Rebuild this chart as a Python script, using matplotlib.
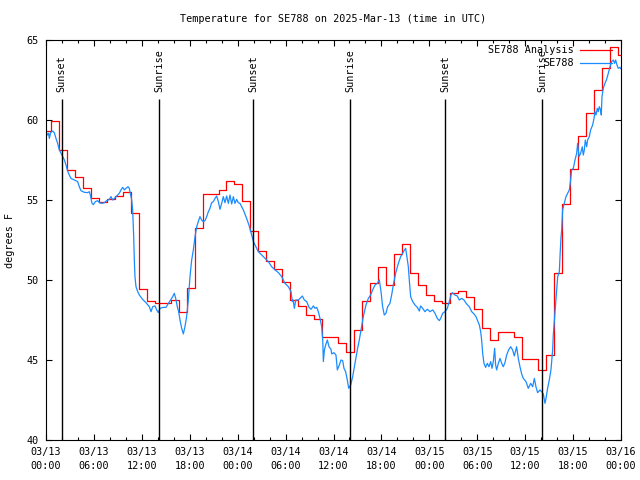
#
# temperature plot for SE788
#

import numpy as np
import pandas as pd
import matplotlib
matplotlib.use("Agg")
import matplotlib.pyplot as plt
import matplotlib.dates as mdates

start = pd.Timestamp("2025-03-13 00:00")
end = pd.Timestamp("2025-03-16 00:00")

# hourly analysis, each value holds from HH:36 of the previous hour
analysis_start = pd.Timestamp("2025-03-12 23:36")
analysis_temp = [
    59.31, 59.92, 58.10, 56.90, 56.42, 55.73, 55.10, 54.85, 55.04, 55.25,
    55.50, 54.17, 49.42, 48.67, 48.54, 48.54, 48.75, 47.98, 49.48, 53.23,
    55.38, 55.38, 55.62, 56.17, 55.98, 54.92, 53.04, 51.79, 51.17, 50.67,
    49.88, 48.73, 48.38, 47.79, 47.58, 46.42, 46.42, 46.08, 45.50, 46.88,
    48.69, 49.79, 50.79, 49.69, 51.60, 52.23, 50.42, 49.69, 49.06, 48.69,
    48.54, 49.17, 49.31, 48.92, 48.17, 46.98, 46.25, 46.73, 46.73, 46.42,
    45.04, 45.04, 44.38, 45.30, 50.42, 54.73, 56.92, 59.00, 60.46, 61.88,
    63.27, 64.58, 64.06,
]

# station observations: hours after 03/13 00:00 UTC and temperature
obs_hours = [
    0.00, 0.21, 0.33, 0.42, 0.58, 0.83, 1.04, 1.25, 1.46, 1.67, 1.88, 2.09,
    2.30, 2.50, 2.71, 2.92, 3.13, 3.55, 3.96, 4.17, 4.38, 4.80, 5.22, 5.43,
    5.55, 5.76, 5.93, 6.18, 6.47, 6.68, 7.01, 7.30, 7.60, 7.93, 8.14, 8.35,
    8.56, 8.85, 9.18, 9.39, 9.60, 9.81, 10.02, 10.27, 10.43, 10.56, 10.73,
    10.85, 10.98, 11.06, 11.14, 11.27, 11.48, 11.69, 12.10, 12.52, 12.94,
    13.15, 13.36, 13.65, 13.86, 14.07, 14.27, 14.69, 15.03, 15.32, 15.61,
    15.86, 16.07, 16.24, 16.44, 16.61, 16.78, 16.99, 17.20, 17.40, 17.61,
    17.82, 18.03, 18.24, 18.45, 18.66, 18.87, 19.07, 19.28, 19.49, 19.70,
    19.91, 20.12, 20.33, 20.53, 20.74, 20.95, 21.16, 21.37, 21.58, 21.79,
    22.00, 22.20, 22.41, 22.62, 22.83, 23.04, 23.25, 23.46, 23.66, 23.87,
    24.08, 24.29, 24.71, 25.12, 25.40, 25.76, 25.97, 26.17, 26.38, 26.59,
    27.01, 27.43, 27.84, 28.26, 28.68, 29.10, 29.51, 29.93, 30.35, 30.68,
    30.85, 30.95, 31.10, 31.27, 31.60, 31.81, 32.10, 32.35, 32.64, 32.94,
    33.19, 33.48, 33.69, 33.90, 34.10, 34.31, 34.52, 34.65, 34.73, 34.86,
    35.02, 35.23, 35.44, 35.69, 35.77, 36.06, 36.31, 36.48, 36.73, 36.94,
    37.15, 37.31, 37.52, 37.73, 37.90, 38.15, 38.40, 38.69, 38.98, 39.23,
    39.44, 39.73, 40.07, 40.36, 40.65, 40.90, 41.20, 41.49, 41.74, 41.95,
    42.15, 42.36, 42.57, 42.78, 43.07, 43.28, 43.49, 43.78, 44.12, 44.41,
    44.66, 44.83, 45.03, 45.16, 45.37, 45.49, 45.66, 45.91, 46.20, 46.50,
    46.75, 46.91, 47.16, 47.45, 47.75, 48.08, 48.42, 48.71, 49.00, 49.25,
    49.42, 49.67, 49.96, 50.25, 50.50, 50.71, 50.88, 51.21, 51.50, 51.75,
    52.05, 52.34, 52.67, 53.00, 53.30, 53.59, 53.84, 54.01, 54.26, 54.43,
    54.55, 54.68, 54.84, 55.05, 55.26, 55.47, 55.68, 55.85, 56.01, 56.18,
    56.30, 56.43, 56.64, 56.85, 57.06, 57.26, 57.47, 57.68, 57.93, 58.18,
    58.43, 58.64, 58.93, 59.14, 59.35, 59.56, 59.77, 60.10, 60.39, 60.69,
    60.94, 61.15, 61.35, 61.56, 61.86, 62.06, 62.27, 62.48, 62.61, 62.81,
    63.02, 63.23, 63.44, 63.52, 63.65, 63.77, 63.94, 64.07, 64.28, 64.36,
    64.48, 64.57, 64.69, 64.90, 65.11, 65.32, 65.53, 65.69, 65.82, 66.03,
    66.24, 66.45, 66.57, 66.74, 66.95, 67.15, 67.28, 67.41, 67.53, 67.70,
    67.82, 68.03, 68.20, 68.45, 68.62, 68.74, 68.87, 69.03, 69.16, 69.28,
    69.45, 69.53, 69.62, 69.78, 69.99, 70.20, 70.41, 70.62, 70.83, 71.04,
    71.20, 71.33, 71.50, 71.66, 71.87, 72.00,
]
obs_temp = [
    59.27, 59.06, 59.17, 58.85, 59.21, 59.31, 59.21, 58.85, 58.54, 58.13, 57.92, 57.71,
    57.50, 57.19, 56.81, 56.56, 56.35, 56.25, 56.15, 55.83, 55.58, 55.48, 55.46, 55.52,
    55.31, 54.79, 54.71, 54.90, 54.96, 54.83, 54.79, 54.83, 54.96, 55.04, 55.21, 55.00,
    55.10, 55.25, 55.42, 55.63, 55.79, 55.63, 55.73, 55.83, 55.73, 55.42, 55.00,
    54.38, 52.71, 51.25, 50.21, 49.58, 49.27, 49.06, 48.79, 48.58, 48.33,
    48.02, 48.33, 48.38, 48.13, 47.96, 48.23, 48.29, 48.29, 48.54, 48.75,
    48.96, 49.17, 48.85, 48.33, 48.02, 47.50, 46.98, 46.63, 47.08, 47.71,
    48.75, 50.21, 51.25, 51.88, 52.71, 53.33, 53.65, 53.96, 53.75, 53.65,
    53.71, 53.96, 54.27, 54.48, 54.83, 54.90, 55.10, 55.25, 54.90, 54.42,
    54.79, 55.21, 54.83, 55.25, 54.79, 55.31, 54.75, 55.21, 54.79, 55.04,
    54.83, 54.79, 54.38, 53.85, 53.45, 52.81, 52.40, 52.19, 51.98, 51.77,
    51.56, 51.35, 51.15, 50.83, 50.63, 50.46, 50.21, 49.79, 49.58, 49.27,
    48.65, 48.75, 48.23, 48.75, 48.75, 48.85, 49.00, 48.75, 48.65, 48.29,
    48.17, 48.38, 48.23, 48.29, 48.02, 47.60, 47.08, 46.25, 44.90, 45.63,
    45.94, 46.25, 45.83, 45.67, 45.38, 45.46, 45.31, 44.38, 44.69, 45.00,
    44.96, 44.48, 44.27, 43.75, 43.23, 43.44, 43.96, 44.79, 45.63, 46.25,
    46.88, 47.71, 48.44, 48.85, 49.06, 49.38, 49.69, 49.79, 50.00, 49.27,
    48.33, 47.81, 47.92, 48.33, 48.54, 49.06, 49.69, 50.42, 51.04, 51.46,
    51.67, 51.83, 51.98, 51.56, 50.83, 50.00, 48.96, 48.65, 48.44, 48.29,
    48.06, 48.38, 48.23, 48.02, 48.17, 48.02, 48.13, 47.92, 47.60, 47.46,
    47.60, 47.92, 48.02, 48.23, 48.65, 49.06, 49.21, 49.06, 49.00, 48.75,
    48.85, 48.75, 48.50, 48.33, 48.02, 47.88, 47.71, 47.50, 47.19, 46.77,
    46.25, 45.42, 44.79, 44.54, 44.79, 44.58, 44.90, 44.48, 44.90, 45.73,
    44.69, 44.38, 44.79, 45.10, 44.79, 44.58, 44.83, 45.31, 45.63, 45.83,
    45.63, 45.25, 45.83, 45.10, 44.58, 44.13, 43.85, 43.65, 43.23, 43.54,
    43.33, 43.85, 43.33, 42.96, 43.13, 43.02, 42.88, 42.29, 42.60, 43.23,
    43.75, 44.38, 45.63, 46.56, 47.40, 48.23, 49.38, 50.21, 50.52, 51.46,
    52.60, 53.13, 54.38, 54.79, 55.21, 55.42, 55.63, 56.25, 56.88, 56.98,
    57.50, 57.92, 58.54, 57.71, 57.92, 58.33, 57.81, 58.13, 58.75, 58.33,
    58.75, 58.96, 59.38, 59.69, 60.10, 60.52, 60.31, 60.73, 60.52, 60.83,
    60.63, 60.31, 61.46, 61.98, 62.29, 62.54, 62.92, 63.33, 63.65, 63.75,
    63.54, 63.75, 63.44, 63.23, 63.29, 63.20,
]

sun_times = ["2025-03-13 01:58", "2025-03-13 14:11", "2025-03-14 01:58",
             "2025-03-14 14:07", "2025-03-15 02:00", "2025-03-15 14:09"]
sun_labels = ["Sunset", "Sunrise", "Sunset", "Sunrise", "Sunset", "Sunrise"]


def main():
    plt.rcParams['font.family'] = ['DejaVu Sans Mono']
    fs = 7.3

    fig = plt.figure(figsize=(6.4, 4.8), dpi=100)
    ax = fig.add_axes([46/640, 40/480, 575/640, 400/480])

    # analysis as steps
    a_times = list(pd.date_range(analysis_start, periods=len(analysis_temp), freq="h"))
    a_times.append(end)
    a_vals = analysis_temp + [analysis_temp[-1]]
    ax.plot(a_times, a_vals, drawstyle="steps-post", color="#ff0000", lw=0.9,
            label="SE788 Analysis")

    o_times = start + pd.to_timedelta(np.array(obs_hours), unit="h")
    ax.plot(o_times, obs_temp, color="#1a8cff", lw=0.9, label="SE788")

    for t, lbl in zip(sun_times, sun_labels):
        t = pd.Timestamp(t)
        ax.vlines(t, 40, 61.3, color="black", lw=1.0)
        ax.text(t, 61.75, lbl, rotation=90, ha="center", va="bottom", fontsize=fs)

    ax.set_xlim(start, end)
    ax.set_ylim(40, 65)
    ax.set_yticks([40, 45, 50, 55, 60, 65])

    ax.xaxis.set_major_locator(mdates.HourLocator(byhour=range(0, 24, 6)))
    ax.xaxis.set_minor_locator(mdates.HourLocator(interval=2))
    ax.xaxis.set_major_formatter(mdates.DateFormatter("%m/%d\n%H:%M"))

    ax.tick_params(which="both", direction="in", top=True, right=True,
                   labelsize=fs, width=0.8)
    ax.tick_params(which="major", length=4.5, pad=5)
    ax.tick_params(which="minor", length=2.5)
    for sp in ax.spines.values():
        sp.set_linewidth(0.8)

    fig.text(333/640, 1 - 19/480, "Temperature for SE788 on 2025-Mar-13 (time in UTC)",
             ha="center", va="center", fontsize=fs)
    fig.text(10/640, 0.5, "degrees F", rotation=90, ha="center", va="center", fontsize=fs)

    ax.legend(loc="upper right", bbox_to_anchor=(1.0, 1.008), frameon=False,
              markerfirst=False, fontsize=fs,
              handlelength=3.2, handletextpad=0.6, labelspacing=0.3,
              borderaxespad=0.55, borderpad=0.3)

    fig.canvas.draw()
    for lbl in ax.get_xticklabels():
        lbl.set_linespacing(1.45)

    plt.savefig("out.png", dpi=100)


if __name__ == "__main__":
    main()
